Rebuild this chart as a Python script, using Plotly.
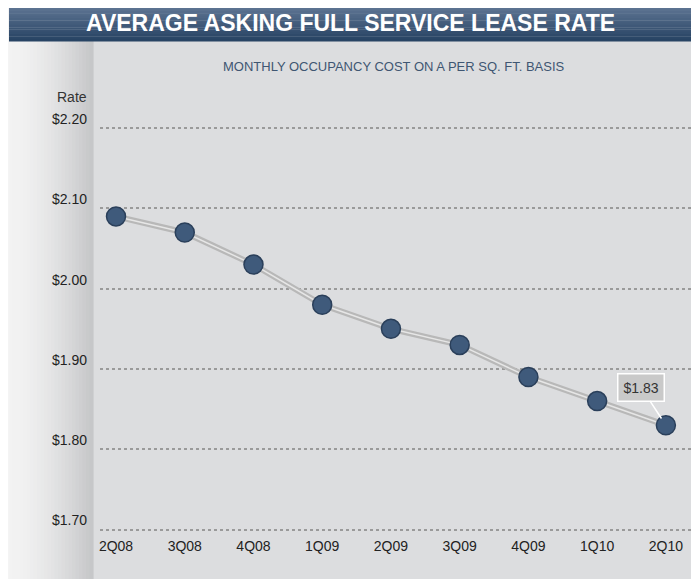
import plotly.graph_objects as go

quarters = ["2Q08", "3Q08", "4Q08", "1Q09", "2Q09", "3Q09", "4Q09", "1Q10", "2Q10"]
rates = [2.09, 2.07, 2.03, 1.98, 1.95, 1.93, 1.89, 1.86, 1.83]
ytick_vals = [1.70, 1.80, 1.90, 2.00, 2.10, 2.20]
ytick_text = ["$1.70", "$1.80", "$1.90", "$2.00", "$2.10", "$2.20"]
title_text = "AVERAGE ASKING FULL SERVICE LEASE RATE"
subtitle_text = "MONTHLY OCCUPANCY COST ON A PER SQ. FT. BASIS"

OFF = 8  # page body margin
W, H = 699 - OFF, 579 - OFF
ML, MR, MT, MB = 92, 7, 104, 47
PW, PH = W - ML - MR, H - MT - MB
FONT = "Liberation Sans, Arial, sans-serif"


def px(x):
    return (x - OFF - ML) / PW


def py(y):
    return (H - MB - (y - OFF)) / PH


shapes = []
# main panel
shapes.append(dict(type="rect", xref="paper", yref="paper", x0=px(9), x1=px(692), y0=py(590), y1=py(41),
                   fillcolor="#dcdddf", line=dict(width=0), layer="below"))
# left strip gradient
n = 24
for i in range(n):
    t = i / (n - 1)
    c1 = (243, 243, 243)
    c2 = (198, 199, 201)
    c = tuple(int(c1[k] + (c2[k] - c1[k]) * t ** 1.6) for k in range(3))
    shapes.append(dict(type="rect", xref="paper", yref="paper",
                       x0=px(9 + (93 - 9) * i / n), x1=px(9 + (93 - 9) * (i + 1) / n) + 0.001,
                       y0=py(590), y1=py(41),
                       fillcolor="rgb(%d,%d,%d)" % c, line=dict(width=0), layer="below"))
# title bar gradient
m = 16
for i in range(m):
    t = i / (m - 1)
    c1 = (98, 120, 150)
    c2 = (40, 68, 100)
    c = tuple(int(c1[k] + (c2[k] - c1[k]) * t) for k in range(3))
    shapes.append(dict(type="rect", xref="paper", yref="paper", x0=px(9), x1=px(692),
                       y1=py(4 + 37 * i / m), y0=py(4 + 37 * (i + 1) / m) - 0.001,
                       fillcolor="rgb(%d,%d,%d)" % c, line=dict(width=0), layer="below"))

fig = go.Figure()
fig.add_trace(go.Scatter(x=quarters, y=rates, mode="lines",
                         line=dict(color="#b8b8b8", width=6), hoverinfo="skip", showlegend=False))
fig.add_trace(go.Scatter(x=quarters, y=rates, mode="lines",
                         line=dict(color="#e6e6e6", width=1.5), hoverinfo="skip", showlegend=False))
fig.add_trace(go.Scatter(x=quarters, y=rates, mode="markers",
                         marker=dict(size=19, color="#3f5a7b", line=dict(color="#2a3f5a", width=1.5)),
                         showlegend=False))

annotations = [
    dict(text="<b>" + title_text + "</b>", xref="paper", yref="paper", x=px(350), y=py(23),
         xanchor="center", yanchor="middle", showarrow=False,
         font=dict(family=FONT, size=23, color="white")),
    dict(text=subtitle_text, xref="paper", yref="paper", x=px(394), y=py(67),
         xanchor="center", yanchor="middle", showarrow=False,
         font=dict(family=FONT, size=13, color="#3f5672")),
    dict(text="Rate", xref="paper", yref="paper", x=px(89), y=py(97),
         xanchor="right", yanchor="middle", showarrow=False,
         font=dict(family=FONT, size=14, color="#333333")),
    dict(text="$1.83", x=quarters[-1], y=rates[-1], xref="x", yref="y",
         ax=-25, ay=-38, showarrow=True, arrowhead=0, arrowwidth=1.5, arrowcolor="#ffffff",
         standoff=8, bgcolor="#c9c9c9", bordercolor="#ffffff", borderwidth=1.5, borderpad=5,
         font=dict(family=FONT, size=14, color="#333333")),
]

fig.update_layout(
    width=W, height=H,
    margin=dict(l=ML, r=MR, t=MT, b=MB),
    paper_bgcolor="#f4f4f4",
    plot_bgcolor="rgba(0,0,0,0)",
    shapes=shapes,
    annotations=annotations,
    font=dict(family=FONT, size=14, color="#333333"),
    xaxis=dict(type="category", range=[-0.233, 8.38], showgrid=False, zeroline=False, showline=False,
               ticks="", ticklabelstandoff=4, tickfont=dict(size=14, color="#222222")),
    yaxis=dict(range=[1.697, 2.22], tickvals=ytick_vals, ticktext=ytick_text, showgrid=True,
               gridcolor="#9a9a9a", gridwidth=2, griddash="dot", zeroline=False, showline=False,
               ticks="", ticklabelstandoff=12, ticklabelshift=-9, tickfont=dict(size=14, color="#222222")),
    hovermode=False,
)

fig.write_html("out.html")
